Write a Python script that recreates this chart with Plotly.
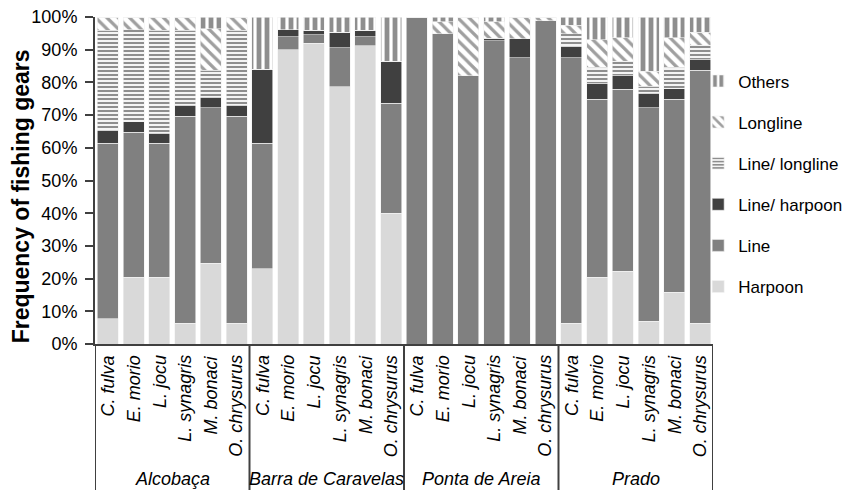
import plotly.graph_objects as go

groups = ["Alcobaça", "Barra de Caravelas", "Ponta de Areia", "Prado"]
species = ["C. fulva", "E. morio", "L. jocu", "L. synagris", "M. bonaci", "O. chrysurus"]

harpoon = [7.7, 20.4, 20.4, 6.4, 24.7, 6.4,
           23.0, 90.0, 91.9, 78.6, 91.2, 40.0,
           0, 0, 0, 0, 0, 0,
           6.4, 20.4, 22.2, 6.9, 15.8, 6.4]
line = [53.7, 44.4, 41.0, 63.2, 47.6, 63.2,
        38.4, 3.9, 2.7, 12.0, 2.7, 33.7,
        100.0, 94.9, 82.1, 92.7, 87.5, 98.8,
        81.1, 54.4, 55.7, 65.4, 59.0, 77.3]
line_harpoon = [3.9, 3.1, 3.1, 3.4, 3.2, 3.4,
                22.6, 2.2, 1.4, 4.8, 2.1, 12.7,
                0, 0, 0, 0.8, 5.9, 0,
                3.5, 5.0, 4.2, 4.4, 3.3, 3.3]
line_longline = [30.6, 28.2, 31.5, 23.0, 8.2, 23.0,
                 0, 0, 0, 0, 0, 0,
                 0, 0, 0, 0, 0, 0,
                 3.9, 4.9, 4.4, 2.1, 6.6, 4.3]
longline = [4.1, 3.9, 4.0, 4.0, 12.7, 4.0,
            0, 0, 0, 0, 0, 0,
            0, 3.6, 17.9, 5.0, 6.6, 1.2,
            2.6, 8.4, 7.2, 4.6, 9.0, 4.1]
others = [0, 0, 0, 0, 3.6, 0,
          16.0, 3.9, 4.0, 4.6, 4.0, 13.6,
          0, 1.5, 0, 1.5, 0, 0,
          2.5, 6.9, 6.3, 16.6, 6.3, 4.6]

n = len(groups) * len(species)
xs = list(range(n))

FONT = "Liberation Sans, Arial, sans-serif"
DARK = "#404040"

series = [
    ("Harpoon", harpoon, dict(color="#d9d9d9"), 6),
    ("Line", line, dict(color="#808080"), 5),
    ("Line/ harpoon", line_harpoon, dict(color="#404040"), 4),
    ("Line/ longline", line_longline, dict(color="white",
        pattern=dict(shape="-", fgcolor="#1e1e1e", bgcolor="white", size=4, solidity=0.55, fillmode="overlay")), 3),
    ("Longline", longline, dict(color="white",
        pattern=dict(shape="\\", fgcolor="#404040", bgcolor="white", size=8, solidity=0.4, fillmode="overlay")), 2),
    ("Others", others, dict(color="white",
        pattern=dict(shape="|", fgcolor="#1e1e1e", bgcolor="white", size=8, solidity=0.6, fillmode="overlay")), 1),
]

fig = go.Figure()
for name, vals, mk, rank in series:
    mk = dict(mk)
    mk["line"] = dict(width=0.6, color="#f2f2f2")
    fig.add_trace(go.Bar(x=xs, y=vals, name=name, marker=mk, legendgroup=name, legendrank=rank))

annotations = []
for gi, g in enumerate(groups):
    for si, s in enumerate(species):
        annotations.append(dict(
            x=gi * len(species) + si, y=-0.028, xref="x", yref="paper",
            text=f"<i>{s}</i>", textangle=-90, showarrow=False,
            xanchor="center", yanchor="top",
            font=dict(family=FONT, size=18, color="black")))
    annotations.append(dict(
        x=gi * len(species) + (len(species) - 1) / 2, y=-0.412, xref="x", yref="paper",
        text=f"<i>{g}</i>", showarrow=False, xanchor="center", yanchor="middle",
        font=dict(family=FONT, size=18, color="black")))

# y-axis title
annotations.append(dict(
    x=-0.12, y=0.451, xref="paper", yref="paper",
    text="<b>Frequency of fishing gears</b>", textangle=-90, showarrow=False,
    xanchor="center", yanchor="middle",
    font=dict(family=FONT, size=23, color="black")))

shapes = []
for k in range(len(groups) + 1):
    xb = k * len(species) - 0.5
    shapes.append(dict(type="line", xref="x", yref="paper", x0=xb, x1=xb, y0=0, y1=-0.45,
                       line=dict(color=DARK, width=2)))

fig.update_layout(
    barmode="stack",
    bargap=0.18,
    width=846, height=482,
    margin=dict(l=87, r=141, t=9, b=146, autoexpand=False),
    paper_bgcolor="white", plot_bgcolor="white",
    font=dict(family=FONT, size=18, color="black"),
    showlegend=True,
    legend=dict(x=0.976, xanchor="left", y=0.858, yanchor="top",
                traceorder="grouped", tracegroupgap=16,
                font=dict(family=FONT, size=17, color="black"),
                itemwidth=30, bgcolor="rgba(0,0,0,0)"),
    annotations=annotations,
    shapes=shapes,
    xaxis=dict(range=[-0.5, n - 0.5], showticklabels=False, ticks="", showgrid=False,
               showline=True, linecolor=DARK, linewidth=2, zeroline=False, fixedrange=True),
    yaxis=dict(range=[0, 100], tickvals=list(range(0, 101, 10)),
               ticktext=[f"{v}%" for v in range(0, 101, 10)],
               ticks="outside", ticklen=8, tickcolor=DARK, tickwidth=2,
               ticklabelstandoff=4, ticklabeloverflow="allow",
               showgrid=False, showline=True, linecolor=DARK, linewidth=2, zeroline=False,
               tickfont=dict(family=FONT, size=18, color="black")),
)

fig.write_html("out.html")
